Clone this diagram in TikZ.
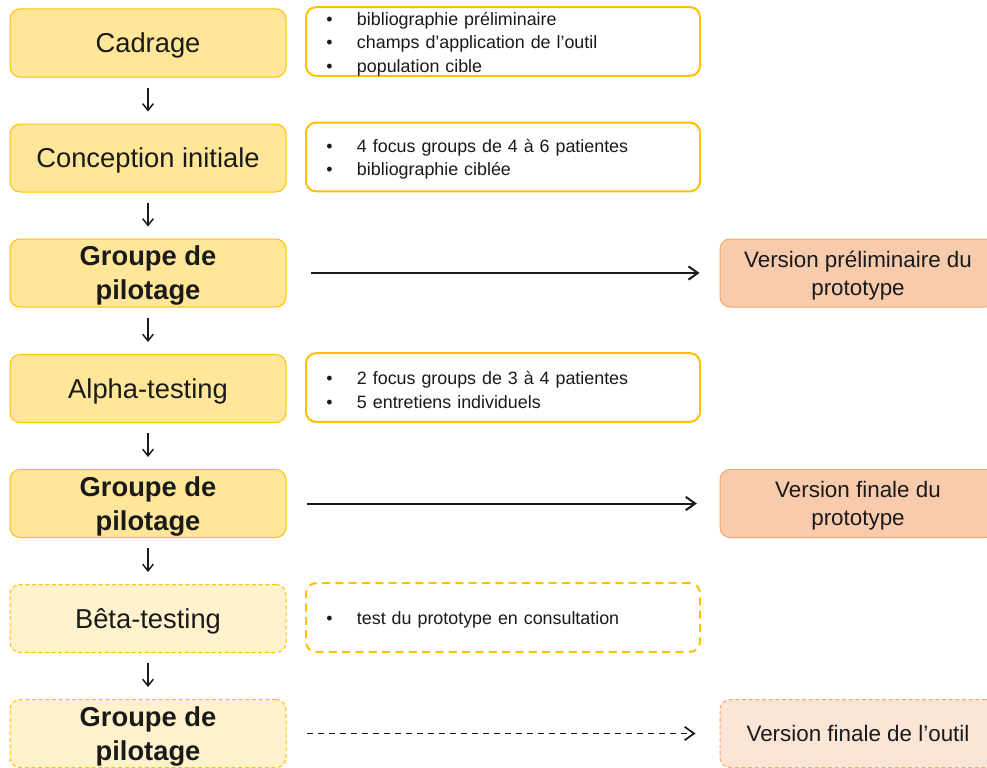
\documentclass[tikz,border=0pt]{standalone}
\usepackage{fontspec}
\setmainfont{Liberation Sans}
\usetikzlibrary{arrows.meta}
\definecolor{gold}{HTML}{FFC000}
\definecolor{goldfill}{HTML}{FFE699}
\definecolor{goldlight}{HTML}{FFF2CC}
\definecolor{orangeline}{HTML}{F4B183}
\definecolor{orangefill}{HTML}{F8CBAD}
\definecolor{orangelight}{HTML}{FBE5D6}
\definecolor{ink}{HTML}{1A1A1A}
\newcommand\bul{\makebox[23pt][l]{\textbullet}}
\newcommand\notefont{\fontsize{13.4}{17.6}\selectfont\spaceskip=0.42em plus 0.1em\relax}
\tikzset{
  stepbox/.style={rectangle, rounded corners=7.5pt, draw=gold, line width=0.75pt, fill=goldfill,
    minimum width=207pt, minimum height=51pt, align=center, text=ink, text depth=0pt,
    font=\fontsize{20.5}{26}\selectfont, inner sep=2pt},
  stepboldbox/.style={stepbox, font=\fontsize{20.5}{25.5}\selectfont\bfseries},
  stepdash/.style={fill=goldlight, dashed, dash pattern=on 3pt off 2pt},
  notebox/.style={rectangle, rounded corners=7.5pt, draw=gold, line width=1.5pt, fill=white,
    minimum width=295.5pt, minimum height=51.5pt, text width=265pt, align=left, text=ink,
    text height=13.5pt, inner xsep=15pt, inner ysep=0pt, font=\notefont},
  notedash/.style={dashed, dash pattern=on 6pt off 4pt},
  outbox/.style={rectangle, rounded corners=7.5pt, draw=orangeline!80!orange, line width=0.75pt, fill=orangefill,
    minimum width=207pt, minimum height=51pt, align=center, text=ink, text depth=0pt,
    font=\fontsize{16.8}{21}\selectfont},
  outdash/.style={fill=orangelight, draw=orangeline!80!orange, dashed, dash pattern=on 3pt off 2pt},
  downarrow/.style={draw=ink, line width=1.1pt, -{Straight Barb[length=5pt,width=8pt]},
    shorten <=7.5pt, shorten >=9pt},
  sidearrow/.style={draw=ink, line width=1.5pt, -{Straight Barb[length=7pt,width=10pt]},
    shorten <=18pt, shorten >=15pt},
}
\begin{document}
\begin{tikzpicture}[x=0.75pt,y=-0.75pt]
\useasboundingbox (0,0) rectangle (987,767);
\clip (0,0) rectangle (987,767);
% left column
\node[stepbox] (s1) at (148,43) {Cadrage};
\node[stepbox] (s2) at (148,158) {Conception initiale};
\node[stepboldbox] (s3) at (148,273) {Groupe de\\pilotage};
\node[stepbox] (s4) at (148,388.5) {Alpha-testing};
\node[stepboldbox] (s5) at (148,503.5) {Groupe de\\pilotage};
\node[stepbox, stepdash] (s6) at (148,618.5) {Bêta-testing};
\node[stepboldbox, stepdash] (s7) at (148,733.5) {Groupe de\\pilotage};
% notes
\node[notebox] (n1) at (503,41.5) {\bul bibliographie préliminaire\\\bul champs d’application de l’outil\\\bul population cible};
\node[notebox] (n2) at (503,157) {\bul 4 focus groups de 4 à 6 patientes\\\bul bibliographie ciblée};
\node[notebox] (n4) at (503,387.5) {\bul 2 focus groups de 3 à 4 patientes\\\bul 5 entretiens individuels};
\node[notebox, notedash] (n6) at (503,617.5) {\bul test du prototype en consultation};
% outputs
\node[outbox] (o3) at (858,273) {Version préliminaire du\\prototype};
\node[outbox] (o5) at (858,503.5) {Version finale du\\prototype};
\node[outbox, outdash] (o7) at (858,733.5) {Version finale de l’outil};
% arrows
\draw[downarrow] (s1) -- (s2);
\draw[downarrow] (s2) -- (s3);
\draw[downarrow] (s3) -- (s4);
\draw[downarrow] (s4) -- (s5);
\draw[downarrow] (s5) -- (s6);
\draw[downarrow] (s6) -- (s7);
\draw[sidearrow] (s3) -- (o3);
\draw[sidearrow, shorten <=15pt, shorten >=17pt] (s5) -- (o5);
\draw[sidearrow, line width=1.3pt, dashed, dash pattern=on 4.5pt off 3.75pt, shorten <=15pt, shorten >=18pt] (s7) -- (o7);
\end{tikzpicture}
\end{document}
